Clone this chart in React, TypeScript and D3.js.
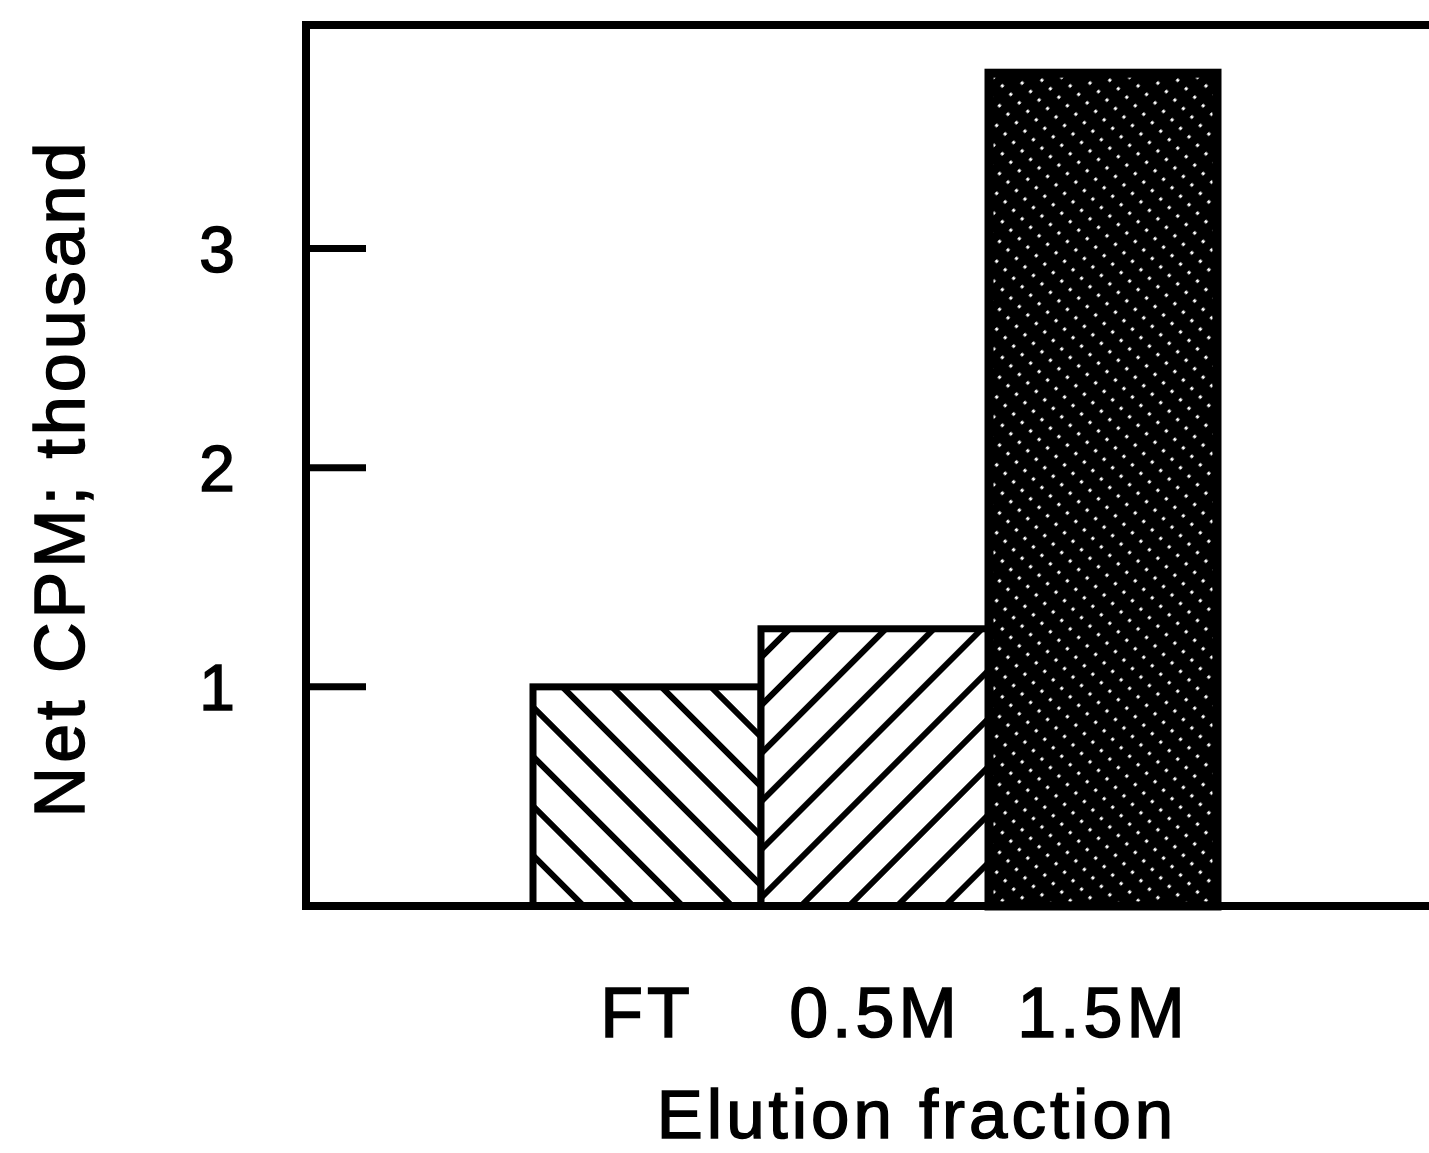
import React, { useEffect, useRef } from "react";
import * as d3 from "d3";

const WIDTH = 1429;
const HEIGHT = 1153;

const categories = ["FT", "0.5M", "1.5M"];
const values = [1.0, 1.265, 3.8];
const patterns = ["hatch-down", "hatch-up", "hatch-dense"];
const yTicks = [1, 2, 3];

const FONT = "'Liberation Sans', Arial, Helvetica, sans-serif";

const App = () => {
  const svgRef = useRef<SVGSVGElement>(null);

  useEffect(() => {
    const svg = d3.select(svgRef.current);
    svg.selectAll("*").remove();
    svg.attr("width", WIDTH).attr("height", HEIGHT);

    const left = 306;
    const top = 25;

    const y = d3.scaleLinear().domain([0, 4.02]).range([906, top]);
    const x = d3.scaleBand<string>().domain(categories).range([533, 1217]).padding(0);

    const defs = svg.append("defs");

    // sparse "\" hatch
    const p1 = defs
      .append("pattern")
      .attr("id", "hatch-down")
      .attr("patternUnits", "userSpaceOnUse")
      .attr("width", 35)
      .attr("height", 35)
      .attr("patternTransform", "rotate(-45)");
    p1.append("rect").attr("width", 35).attr("height", 35).attr("fill", "#fff");
    p1.append("line")
      .attr("x1", 17).attr("y1", 0).attr("x2", 17).attr("y2", 35)
      .attr("stroke", "#000").attr("stroke-width", 6);

    // sparse "/" hatch
    const p2 = defs
      .append("pattern")
      .attr("id", "hatch-up")
      .attr("patternUnits", "userSpaceOnUse")
      .attr("width", 34)
      .attr("height", 34)
      .attr("patternTransform", "rotate(45)");
    p2.append("rect").attr("width", 34).attr("height", 34).attr("fill", "#fff");
    p2.append("line")
      .attr("x1", 17).attr("y1", 0).attr("x2", 17).attr("y2", 34)
      .attr("stroke", "#000").attr("stroke-width", 6);

    // dense: black with dotted white "\" lines
    const p3 = defs
      .append("pattern")
      .attr("id", "hatch-dense")
      .attr("patternUnits", "userSpaceOnUse")
      .attr("width", 16)
      .attr("height", 12)
      .attr("patternTransform", "rotate(-45)");
    p3.append("rect").attr("width", 16).attr("height", 12).attr("fill", "#000");
    p3.append("line")
      .attr("x1", 8).attr("y1", 0).attr("x2", 8).attr("y2", 12)
      .attr("stroke", "#fff").attr("stroke-width", 3)
      .attr("stroke-dasharray", "3 9");

    // bars
    svg
      .append("g")
      .selectAll("rect")
      .data(categories)
      .join("rect")
      .attr("x", d => x(d)!)
      .attr("y", (d, i) => y(values[i]))
      .attr("width", x.bandwidth())
      .attr("height", (d, i) => y(0) - y(values[i]))
      .attr("fill", (d, i) => `url(#${patterns[i]})`)
      .attr("stroke", "#000")
      .attr("stroke-width", (d, i) => (i === 2 ? 9 : 7));

    // frame (open on the right)
    const frame = svg.append("g").attr("stroke", "#000").attr("fill", "none");
    frame.append("line")
      .attr("x1", left).attr("y1", top).attr("x2", WIDTH).attr("y2", top)
      .attr("stroke-width", 8);
    frame.append("line")
      .attr("x1", left).attr("y1", top - 4).attr("x2", left).attr("y2", y(0) + 4)
      .attr("stroke-width", 8);
    frame.append("line")
      .attr("x1", left).attr("y1", y(0)).attr("x2", WIDTH).attr("y2", y(0))
      .attr("stroke-width", 8);

    // y axis ticks and labels
    const ticks = svg.append("g");
    ticks
      .selectAll("line")
      .data(yTicks)
      .join("line")
      .attr("x1", left)
      .attr("x2", 366)
      .attr("y1", d => y(d))
      .attr("y2", d => y(d))
      .attr("stroke", "#000")
      .attr("stroke-width", 7);
    ticks
      .selectAll("text")
      .data(yTicks)
      .join("text")
      .attr("x", 217)
      .attr("y", d => y(d) + 23)
      .attr("text-anchor", "middle")
      .attr("font-family", FONT)
      .attr("font-size", 64)
      .attr("fill", "#000")
      .attr("stroke", "#000")
      .attr("stroke-width", 1.5)
      .text(d => d);

    // x category labels
    svg
      .append("g")
      .selectAll("text")
      .data(categories)
      .join("text")
      .attr("x", d => x(d)! + x.bandwidth() / 2)
      .attr("y", 1037)
      .attr("text-anchor", "middle")
      .attr("font-family", FONT)
      .attr("font-size", 70)
      .attr("letter-spacing", 4)
      .attr("fill", "#000")
      .attr("stroke", "#000")
      .attr("stroke-width", 1.5)
      .text(d => d);

    // axis titles
    svg
      .append("text")
      .attr("x", 917)
      .attr("y", 1138)
      .attr("text-anchor", "middle")
      .attr("font-family", FONT)
      .attr("font-size", 69)
      .attr("letter-spacing", 4)
      .attr("fill", "#000")
      .attr("stroke", "#000")
      .attr("stroke-width", 1.5)
      .text("Elution fraction");

    svg
      .append("text")
      .attr("transform", "translate(84,478) rotate(-90)")
      .attr("text-anchor", "middle")
      .attr("font-family", FONT)
      .attr("font-size", 70)
      .attr("letter-spacing", 4)
      .attr("fill", "#000")
      .attr("stroke", "#000")
      .attr("stroke-width", 1.5)
      .text("Net CPM; thousand");
  }, []);

  return (
    <div>
      <style>{`body{margin:0;background:#fff}`}</style>
      <svg ref={svgRef} style={{ display: "block" }} />
    </div>
  );
};

export default App;
